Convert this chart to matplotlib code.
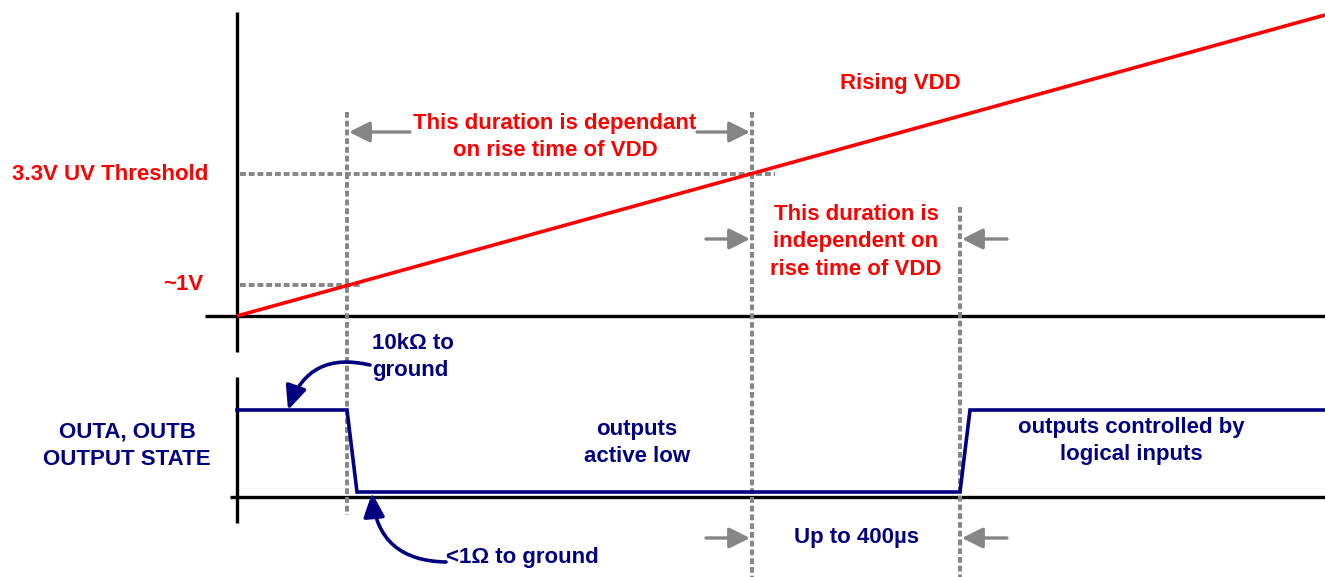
import matplotlib
matplotlib.use("Agg")
import matplotlib.pyplot as plt

plt.rcParams['font.family'] = ['Liberation Sans', 'DejaVu Sans']

# ---- diagram data (horizontal = time, vertical = level, in diagram units) ----
vdd_t = [237, 1325]
vdd_v = [316, 15]

out_t = [237, 347, 357, 960, 970, 1325]
out_v = [410, 410, 492, 492, 410, 410]

event_t = [347, 752, 960]
event_top = [112, 112, 207]
event_bottom = [515, 577, 577]

threshold_levels = [174, 285]
threshold_ends = [775, 360]
threshold_labels = ["3.3V UV Threshold", "~1V"]

RED = "#ff0000"
NAVY = "#000080"
GRAY = "#858585"

fig = plt.figure(figsize=(13.25, 5.77), dpi=100)
ax = fig.add_axes([0, 0, 1, 1])
ax.set_xlim(0, 1325)
ax.set_ylim(577, 0)
ax.axis('off')

# axes of the diagram
ax.plot([237, 237], [12, 352], color='black', lw=2.4, solid_capstyle='butt')
ax.plot([205, 1325], [316, 316], color='black', lw=2.4, solid_capstyle='butt')
ax.plot([237, 237], [377, 523], color='black', lw=2.4, solid_capstyle='butt')
ax.plot([230, 1325], [497, 497], color='black', lw=2.4, solid_capstyle='butt')

dash = (0, (1.5, 0.75))
dkw = dict(color=GRAY, lw=2.8, linestyle=dash, dash_capstyle='butt')
# threshold dotted lines
for lvl, end in zip(threshold_levels, threshold_ends):
    ax.plot([240, end], [lvl, lvl], **dkw)
# event vertical dotted lines
for t, top, bot in zip(event_t, event_top, event_bottom):
    ax.plot([t, t], [top, bot], **dkw)

# VDD ramp
ax.plot(vdd_t, vdd_v, color=RED, lw=2.6, solid_capstyle='butt')

# output state
ax.plot(out_t, out_v, color=NAVY, lw=2.6, solid_joinstyle='miter')

# gray dimension arrows
def garrow(x0, x1, y):
    ax.annotate('', xy=(x1, y), xytext=(x0, y),
                arrowprops=dict(arrowstyle='-|>,head_length=0.7,head_width=0.35',
                                color=GRAY, lw=2.4, shrinkA=0, shrinkB=0,
                                mutation_scale=18))

garrow(410, 349, 132)
garrow(697, 750, 132)
garrow(706, 750, 239)
garrow(1007, 962, 239)
garrow(706, 750, 538)
garrow(1007, 962, 538)

# curved navy arrows
ax.annotate('', xy=(288, 410), xytext=(370, 365),
            arrowprops=dict(arrowstyle='-|>,head_length=0.9,head_width=0.4',
                            color=NAVY, lw=2.6, shrinkA=0, shrinkB=0,
                            mutation_scale=16, connectionstyle='arc3,rad=0.45'))
ax.annotate('', xy=(372, 493), xytext=(446, 562),
            arrowprops=dict(arrowstyle='-|>,head_length=0.9,head_width=0.4',
                            color=NAVY, lw=2.6, shrinkA=0, shrinkB=0,
                            mutation_scale=16, connectionstyle='arc3,rad=-0.45'))

fs = 16
kw = dict(fontsize=fs, fontweight='bold', linespacing=1.38)

ax.text(900, 83, "Rising VDD", color=RED, ha='center', va='center', **kw)
ax.text(555, 137, "This duration is dependant\non rise time of VDD", color=RED,
        ha='center', va='center', **kw)
for lvl, lab, xr in zip(threshold_levels, threshold_labels, [208, 203]):
    ax.text(xr, lvl, lab, color=RED, ha='right', va='center', **kw)
ax.text(856, 242, "This duration is\nindependent on\nrise time of VDD", color=RED,
        ha='center', va='center', **kw)

ax.text(372, 357, "10k\u03a9 to\nground", color=NAVY, ha='left', va='center', **kw)
ax.text(127, 446, "OUTA, OUTB\nOUTPUT STATE", color=NAVY, ha='center', va='center', **kw)
ax.text(637, 443, "outputs\nactive low", color=NAVY, ha='center', va='center', **kw)
ax.text(1131, 441, "outputs controlled by\nlogical inputs", color=NAVY,
        ha='center', va='center', **kw)
ax.text(446, 558, "<1\u03a9 to ground", color=NAVY, ha='left', va='center', **kw)
ax.text(856, 537, "Up to 400\u00b5s", color=NAVY, ha='center', va='center', **kw)

fig.savefig("out.png", dpi=100)
